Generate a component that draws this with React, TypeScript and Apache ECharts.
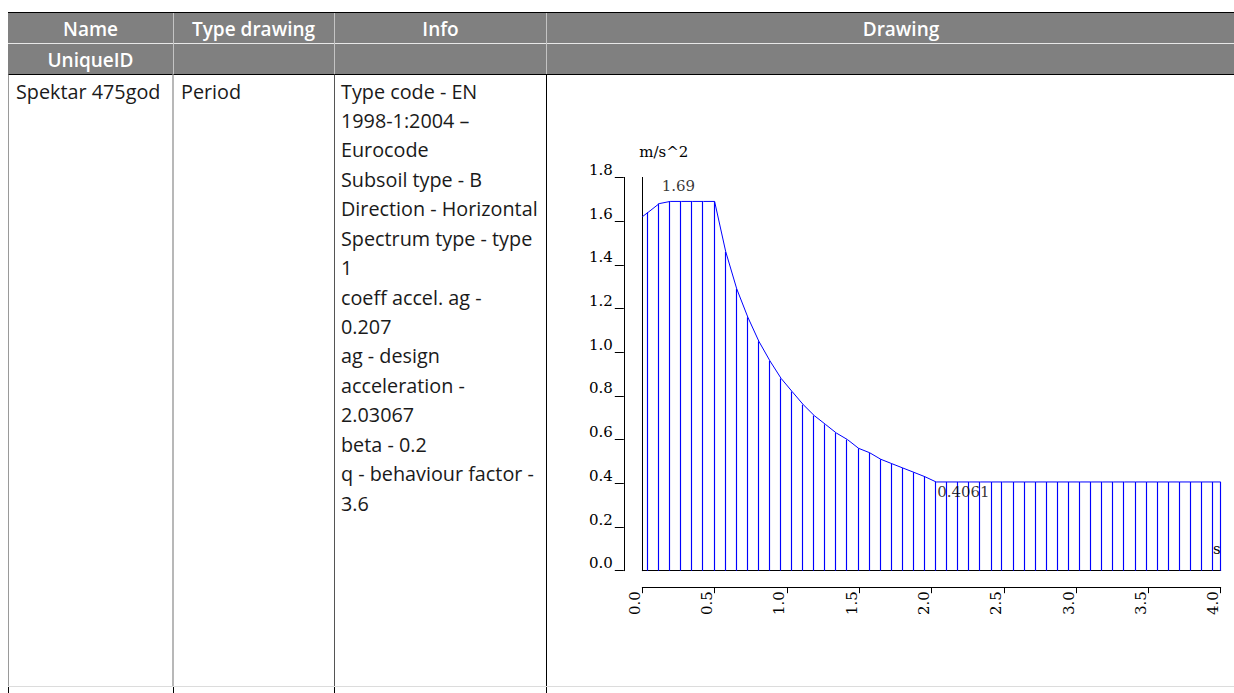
import React, { useEffect, useRef } from "react";
import * as echarts from "echarts";

// ---------- table content ----------
const headerRow1 = ["Name", "Type drawing", "Info", "Drawing"];
const headerRow2 = ["UniqueID", "", "", ""];
const rowName = "Spektar 475god";
const rowType = "Period";
const infoLines = [
  "Type code - EN",
  "1998-1:2004 \u2013",
  "Eurocode",
  "Subsoil type - B",
  "Direction - Horizontal",
  "Spectrum type - type",
  "1",
  "coeff accel. ag -",
  "0.207",
  "ag - design",
  "acceleration -",
  "2.03067",
  "beta - 0.2",
  "q - behaviour factor -",
  "3.6",
];

// ---------- chart data (period T [s], design acceleration Sd [m/s^2]) ----------
const periods = [
  0, 0.04, 0.117, 0.193, 0.27, 0.346, 0.423, 0.5, 0.577, 0.653, 0.73, 0.806,
  0.883, 0.96, 1.036, 1.113, 1.189, 1.266, 1.342, 1.419, 1.496, 1.572, 1.649,
  1.725, 1.802, 1.879, 1.955, 2.032, 2.108, 2.185, 2.262, 2.338, 2.415, 2.491,
  2.568, 2.645, 2.721, 2.798, 2.874, 2.951, 3.028, 3.104, 3.181, 3.257, 3.334,
  3.411, 3.487, 3.564, 3.64, 3.717, 3.794, 3.87, 3.947, 4.0,
];
const accel = [
  1.62, 1.64, 1.68, 1.69, 1.69, 1.69, 1.69, 1.69, 1.46, 1.29, 1.16, 1.05,
  0.96, 0.88, 0.82, 0.76, 0.71, 0.67, 0.63, 0.6, 0.56, 0.54, 0.51,
  0.49, 0.47, 0.45, 0.43, 0.4061, 0.4061, 0.4061, 0.4061, 0.4061, 0.4061, 0.4061,
  0.4061, 0.4061, 0.4061, 0.4061, 0.4061, 0.4061, 0.4061, 0.4061, 0.4061, 0.4061, 0.4061,
  0.4061, 0.4061, 0.4061, 0.4061, 0.4061, 0.4061, 0.4061, 0.4061, 0.4061,
];
const annotT = [0.134, 2.032];
const annotV = [1.69, 0.4061];
const annotText = ["1.69", "0.4061"];
const yUnit = "m/s^2";
const xUnit = "s";

const TABLE_FONT = '"Open Sans", "Noto Sans", sans-serif';
const CHART_FONT = '"DejaVu Serif", "Liberation Serif", serif';

function buildTable(): any[] {
  const g: any[] = [];
  const left = 8;
  const right = 1255;
  const colX = [8, 173, 334, 547, 1255];
  const yTop = 12.5;
  const yMid = 43.5;
  const yHead = 74.5;
  const yBot = 686.5;
  const line = (x1: number, y1: number, x2: number, y2: number, stroke: string, w = 1) => ({
    type: "line",
    silent: true,
    shape: { x1, y1, x2, y2 },
    style: { stroke, lineWidth: w },
  });
  g.push({
    type: "rect",
    silent: true,
    shape: { x: left, y: yTop, width: right - left, height: yHead - yTop },
    style: { fill: "#808080" },
  });
  g.push(line(left, yMid, right, yMid, "#e8e8e8"));
  [173.5, 334.5, 546.5].forEach((x) => g.push(line(x, yTop, x, yHead, "#c4c4c4")));
  g.push(line(left, yTop, right, yTop, "#000"));
  g.push(line(left, yHead, right, yHead, "#000"));
  // body verticals
  g.push(line(8.5, yHead, 8.5, yBot, "#9a9a9a"));
  g.push(line(172.5, yHead, 172.5, yBot, "#b8b8b8"));
  g.push(line(173.5, yHead, 173.5, yBot, "#b8b8b8"));
  g.push(line(334.5, yHead, 334.5, yBot, "#555"));
  g.push(line(546.5, yHead, 546.5, yBot, "#000"));
  g.push(line(left, yBot, right, yBot, "#dcdcdc"));
  [8.5, 173.5, 334.5, 546.5].forEach((x) => g.push(line(x, yBot + 0.5, x, 693, "#000")));

  const headStyle = (text: string, x: number, y: number) => ({
    type: "text",
    silent: true,
    style: {
      text,
      x,
      y,
      fill: "#ffffff",
      fontFamily: TABLE_FONT,
      fontSize: 19,
      fontWeight: 600,
      align: "center",
      verticalAlign: "middle",
    },
  });
  headerRow1.forEach((t, i) => {
    if (t) g.push(headStyle(t, (colX[i] + colX[i + 1]) / 2, 29));
  });
  headerRow2.forEach((t, i) => {
    if (t) g.push(headStyle(t, (colX[i] + colX[i + 1]) / 2, 60));
  });
  const bodyText = (text: string, x: number, y: number) => ({
    type: "text",
    silent: true,
    style: {
      text,
      x,
      y,
      fill: "#1a1a1a",
      fontFamily: TABLE_FONT,
      fontSize: 19.8,
      fontWeight: 400,
      align: "left",
      verticalAlign: "middle",
    },
  });
  g.push(bodyText(rowName, 16, 91));
  g.push(bodyText(rowType, 181, 91));
  infoLines.forEach((t, i) => g.push(bodyText(t, 341, 91 + i * 29.43)));
  return g;
}

export default function App() {
  const ref = useRef<HTMLDivElement>(null);
  useEffect(() => {
    if (!ref.current) return;
    const chart = echarts.init(ref.current, undefined, { renderer: "svg" });
    const pairs = periods.map((t, i) => [t, accel[i]]);
    const labelFont = { fontFamily: CHART_FONT, fontSize: 15, color: "#000" };
    const option: any = {
      animation: false,
      backgroundColor: "#ffffff",
      graphic: buildTable(),
      grid: { left: 642.3, top: 177.4, width: 578.4, height: 393.3, containLabel: false },
      xAxis: [
        {
          type: "value",
          min: 0,
          max: 4,
          interval: 0.5,
          position: "bottom",
          offset: 16.5,
          axisLine: { show: true, onZero: false, lineStyle: { color: "#000", width: 1 } },
          axisTick: { show: true, length: 6, lineStyle: { color: "#000", width: 1 } },
          axisLabel: {
            ...labelFont,
            rotate: 90,
            margin: 4,
            align: "right",
            verticalAlign: "bottom",
            formatter: (v: number) => v.toFixed(1),
          },
          splitLine: { show: false },
        },
        {
          type: "value",
          min: 0,
          max: 4,
          position: "bottom",
          offset: 0,
          axisLine: { show: true, onZero: false, lineStyle: { color: "#000", width: 1 } },
          axisTick: { show: false },
          axisLabel: { show: false },
          splitLine: { show: false },
          name: xUnit,
          nameLocation: "end",
          nameGap: 0,
          nameTextStyle: {
            ...labelFont,
            align: "right",
            verticalAlign: "bottom",
            padding: [0, 0, 14, 0],
          },
        },
      ],
      yAxis: [
        {
          type: "value",
          min: 0,
          max: 1.8,
          interval: 0.2,
          position: "left",
          offset: 18.5,
          axisLine: { show: true, onZero: false, lineStyle: { color: "#000", width: 1 } },
          axisTick: { show: true, length: 9, lineStyle: { color: "#000", width: 1 } },
          axisLabel: {
            ...labelFont,
            margin: 11,
            verticalAlign: "bottom",
            formatter: (v: number) => v.toFixed(1),
          },
          splitLine: { show: false },
        },
        {
          type: "value",
          min: 0,
          max: 1.8,
          position: "left",
          offset: 0,
          axisLine: { show: true, onZero: false, lineStyle: { color: "#000", width: 1 } },
          axisTick: { show: false },
          axisLabel: { show: false },
          splitLine: { show: false },
          name: yUnit,
          nameLocation: "end",
          nameGap: 25,
          nameTextStyle: { ...labelFont, align: "left", verticalAlign: "middle", padding: [0, 0, 0, -3] },
        },
      ],
      series: [
        {
          type: "custom",
          xAxisIndex: 0,
          yAxisIndex: 0,
          silent: true,
          data: pairs.filter((d) => d[0] > 0),
          renderItem: (_p: any, api: any) => {
            const top = api.coord([api.value(0), api.value(1)]);
            const bot = api.coord([api.value(0), 0]);
            const x = Math.round(top[0]) - 0.5;
            return {
              type: "line",
              shape: { x1: x, y1: top[1], x2: x, y2: bot[1] },
              style: { stroke: "#0000ff", lineWidth: 1.15 },
            };
          },
          z: 1,
        },
        {
          type: "line",
          xAxisIndex: 0,
          yAxisIndex: 0,
          data: pairs,
          symbol: "none",
          silent: true,
          lineStyle: { color: "#0000ff", width: 1 },
          z: 2,
        },
        {
          type: "scatter",
          xAxisIndex: 0,
          yAxisIndex: 0,
          symbolSize: 0,
          silent: true,
          data: annotT.map((t, i) => ({
            value: [t, annotV[i]],
            label: {
              show: true,
              formatter: annotText[i],
              ...labelFont,
              align: "left",
              verticalAlign: i === 0 ? "bottom" : "top",
              position: i === 0 ? [0, -8] : [1, 3],
            },
          })),
          z: 3,
        },
      ],
    };
    chart.setOption(option);
    return () => chart.dispose();
  }, []);
  return (
    <div
      ref={ref}
      style={{ position: "fixed", left: 0, top: 0, width: 1234, height: 693, background: "#fff" }}
    />
  );
}
